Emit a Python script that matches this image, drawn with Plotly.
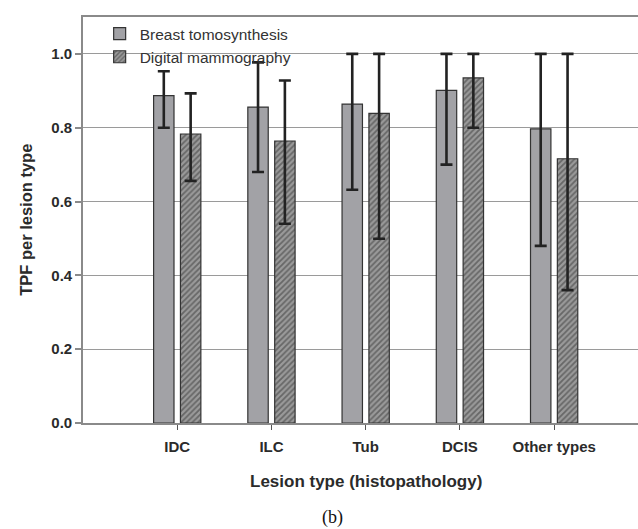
import plotly.graph_objects as go

categories = ["IDC", "ILC", "Tub", "DCIS", "Other types"]
series_names = ["Breast tomosynthesis", "Digital mammography"]
bt_values = [0.887, 0.856, 0.864, 0.901, 0.797]
bt_upper = [0.953, 0.977, 1.0, 1.0, 1.0]
bt_lower = [0.800, 0.680, 0.632, 0.700, 0.480]
dm_values = [0.783, 0.764, 0.839, 0.935, 0.716]
dm_upper = [0.893, 0.928, 1.0, 1.0, 1.0]
dm_lower = [0.656, 0.540, 0.499, 0.800, 0.360]
y_ticks = [0.0, 0.2, 0.4, 0.6, 0.8, 1.0]
y_tick_labels = ["0.0", "0.2", "0.4", "0.6", "0.8", "1.0"]

FONT = "Liberation Sans, Arial, sans-serif"
TXT = "#2b2b2b"

def err(vals, up, lo):
    return dict(type="data", symmetric=False,
                array=[u - v for u, v in zip(up, vals)],
                arrayminus=[v - l for v, l in zip(vals, lo)],
                color="#222222", thickness=2.6, width=6)

fig = go.Figure()
fig.add_trace(go.Bar(
    x=categories, y=bt_values, name=series_names[0],
    marker=dict(color="#a2a2a6", line=dict(color="#333333", width=1.2)),
    error_y=err(bt_values, bt_upper, bt_lower),
))
fig.add_trace(go.Bar(
    x=categories, y=dm_values, name=series_names[1],
    marker=dict(color="#9a9a9a", line=dict(color="#333333", width=1.2),
                pattern=dict(shape="/", fgcolor="#333333", bgcolor="#9a9a9a",
                             size=4, solidity=0.45)),
    error_y=err(dm_values, dm_upper, dm_lower),
))

fig.update_layout(
    width=638, height=529,
    margin=dict(l=83, r=0, t=17, b=106),
    paper_bgcolor="white", plot_bgcolor="white",
    barmode="group", bargap=0.43, bargroupgap=0.24,
    font=dict(family=FONT, color=TXT),
    showlegend=True,
    legend=dict(x=0.03, y=1.0, xanchor="left", yanchor="top",
                bgcolor="rgba(0,0,0,0)", borderwidth=0,
                font=dict(family=FONT, size=15.5, color="#333333"),
                tracegroupgap=0, itemwidth=30),
    xaxis=dict(
        type="category", range=[-1.0, 4.89],
        showline=True, linecolor="#8a8a8a", linewidth=1.6, mirror=True,
        ticks="outside", ticklen=5, tickcolor="#555555", tickwidth=1,
        tickfont=dict(family=FONT, size=15, color=TXT, weight="bold"),
        ticklabelstandoff=4,
        showgrid=False,
    ),
    yaxis=dict(
        range=[0, 1.1], tickvals=y_ticks, ticktext=y_tick_labels,
        showline=True, linecolor="#8a8a8a", linewidth=1.6,
        ticks="outside", ticklen=6, tickcolor="#8a8a8a", tickwidth=1.5,
        tickfont=dict(family=FONT, size=15, color=TXT, weight="bold"),
        showgrid=True, gridcolor="#9a9a9a", gridwidth=1.2,
        zeroline=False,
    ),
    annotations=[
        dict(text="<b>TPF per lesion type</b>", xref="paper", yref="paper",
             x=-0.103, y=0.5, textangle=-90, showarrow=False,
             xanchor="center", yanchor="middle",
             font=dict(family=FONT, size=16.5, color=TXT)),
        dict(text="<b>Lesion type (histopathology)</b>", xref="paper", yref="paper",
             x=0.5108, y=-0.143, showarrow=False, xanchor="center", yanchor="middle",
             font=dict(family=FONT, size=17, color=TXT)),
        dict(text="(b)", xref="paper", yref="paper",
             x=0.449, y=-0.233, showarrow=False, xanchor="center", yanchor="middle",
             font=dict(family="Liberation Serif, Times New Roman, serif", size=18, color="#111111")),
    ],
)

fig.write_html("out.html", config={"displayModeBar": False},
               post_script="document.body.style.margin='0';document.body.style.overflow='hidden';")
